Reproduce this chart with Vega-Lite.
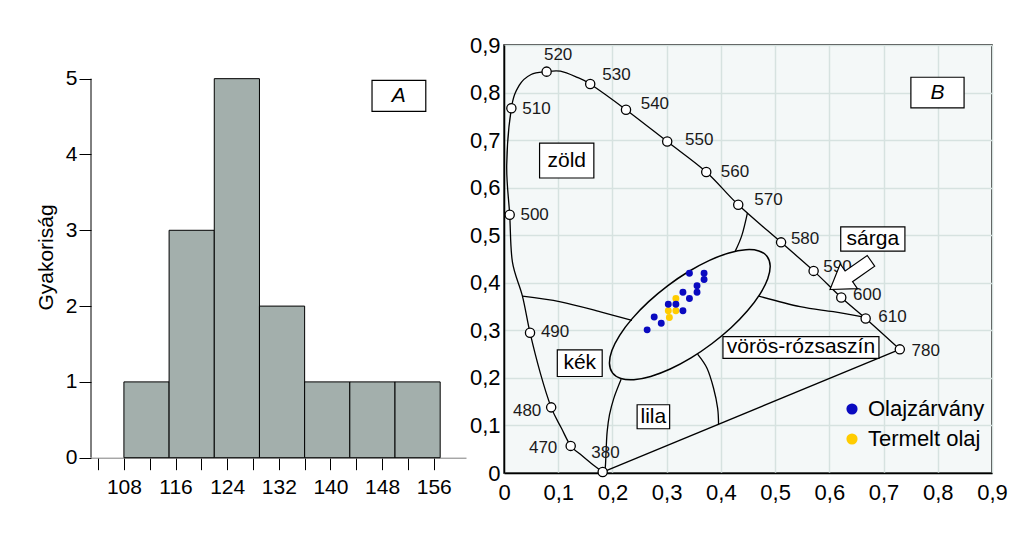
{
  "$schema": "https://vega.github.io/schema/vega-lite/v6.json",
  "padding": {"left": 35, "top": 33, "right": 5, "bottom": 5},
  "bounds": "flush",
  "spacing": 38,
  "config": {"font": "Liberation Sans"},
  "datasets": {
    "hist": [
      {"lo": 108, "hi": 115, "n": 1},
      {"lo": 115, "hi": 122, "n": 3},
      {"lo": 122, "hi": 129, "n": 5},
      {"lo": 129, "hi": 136, "n": 2},
      {"lo": 136, "hi": 143, "n": 1},
      {"lo": 143, "hi": 150, "n": 1},
      {"lo": 150, "hi": 157, "n": 1}
    ],
    "locus": [
      {"i": 1, "x": 0.182, "y": 0.002, "wl": 380},
      {"i": 2, "x": 0.160, "y": 0.021, "wl": null},
      {"i": 3, "x": 0.139, "y": 0.041, "wl": null},
      {"i": 4, "x": 0.123, "y": 0.057, "wl": 470},
      {"i": 5, "x": 0.106, "y": 0.094, "wl": null},
      {"i": 6, "x": 0.087, "y": 0.138, "wl": 480},
      {"i": 7, "x": 0.067, "y": 0.21, "wl": null},
      {"i": 8, "x": 0.048, "y": 0.295, "wl": 490},
      {"i": 9, "x": 0.034, "y": 0.372, "wl": null},
      {"i": 10, "x": 0.0155, "y": 0.444, "wl": null},
      {"i": 11, "x": 0.0105, "y": 0.543, "wl": 500},
      {"i": 12, "x": 0.005, "y": 0.647, "wl": null},
      {"i": 13, "x": 0.0136, "y": 0.767, "wl": 510},
      {"i": 14, "x": 0.028, "y": 0.815, "wl": null},
      {"i": 15, "x": 0.05, "y": 0.838, "wl": null},
      {"i": 16, "x": 0.0786, "y": 0.844, "wl": 520},
      {"i": 17, "x": 0.104, "y": 0.845, "wl": null},
      {"i": 18, "x": 0.135, "y": 0.832, "wl": null},
      {"i": 19, "x": 0.159, "y": 0.818, "wl": 530},
      {"i": 20, "x": 0.225, "y": 0.764, "wl": 540},
      {"i": 21, "x": 0.301, "y": 0.697, "wl": 550},
      {"i": 22, "x": 0.373, "y": 0.633, "wl": 560},
      {"i": 23, "x": 0.432, "y": 0.564, "wl": 570},
      {"i": 24, "x": 0.511, "y": 0.485, "wl": 580},
      {"i": 25, "x": 0.571, "y": 0.425, "wl": 590},
      {"i": 26, "x": 0.622, "y": 0.369, "wl": 600},
      {"i": 27, "x": 0.667, "y": 0.325, "wl": 610},
      {"i": 28, "x": 0.730, "y": 0.260, "wl": 780}
    ],
    "wlabels": [
      {"t": "380", "x": 0.1872, "y": 0.042},
      {"t": "470", "x": 0.0722, "y": 0.0524},
      {"t": "480", "x": 0.0427, "y": 0.1294},
      {"t": "490", "x": 0.0942, "y": 0.2973},
      {"t": "500", "x": 0.0565, "y": 0.5433},
      {"t": "510", "x": 0.0598, "y": 0.7657},
      {"t": "520", "x": 0.0998, "y": 0.8783},
      {"t": "530", "x": 0.2074, "y": 0.837},
      {"t": "540", "x": 0.2783, "y": 0.7762},
      {"t": "550", "x": 0.3602, "y": 0.700},
      {"t": "560", "x": 0.4259, "y": 0.6325},
      {"t": "570", "x": 0.4878, "y": 0.574},
      {"t": "580", "x": 0.5553, "y": 0.493},
      {"t": "590", "x": 0.6151, "y": 0.4336},
      {"t": "600", "x": 0.6698, "y": 0.3742},
      {"t": "610", "x": 0.7164, "y": 0.3287},
      {"t": "780", "x": 0.7777, "y": 0.2574}
    ],
    "bounds": [
      {"seg": 1, "i": 1, "x": 0.034, "y": 0.372},
      {"seg": 1, "i": 2, "x": 0.1044, "y": 0.360},
      {"seg": 1, "i": 3, "x": 0.178, "y": 0.339},
      {"seg": 1, "i": 4, "x": 0.236, "y": 0.321},
      {"seg": 2, "i": 1, "x": 0.216, "y": 0.197},
      {"seg": 2, "i": 2, "x": 0.2025, "y": 0.157},
      {"seg": 2, "i": 3, "x": 0.1946, "y": 0.1225},
      {"seg": 2, "i": 4, "x": 0.1903, "y": 0.0875},
      {"seg": 2, "i": 5, "x": 0.1885, "y": 0.0524},
      {"seg": 2, "i": 6, "x": 0.1872, "y": 0.0176},
      {"seg": 2, "i": 7, "x": 0.186, "y": 0.004},
      {"seg": 3, "i": 1, "x": 0.357, "y": 0.25},
      {"seg": 3, "i": 2, "x": 0.3744, "y": 0.2203},
      {"seg": 3, "i": 3, "x": 0.3865, "y": 0.1783},
      {"seg": 3, "i": 4, "x": 0.394, "y": 0.1364},
      {"seg": 3, "i": 5, "x": 0.3957, "y": 0.102},
      {"seg": 4, "i": 1, "x": 0.470, "y": 0.372},
      {"seg": 4, "i": 2, "x": 0.5461, "y": 0.3497},
      {"seg": 4, "i": 3, "x": 0.6074, "y": 0.3392},
      {"seg": 4, "i": 4, "x": 0.664, "y": 0.328},
      {"seg": 5, "i": 1, "x": 0.4265, "y": 0.4665},
      {"seg": 5, "i": 2, "x": 0.4388, "y": 0.5001},
      {"seg": 5, "i": 3, "x": 0.449, "y": 0.547}
    ],
    "ellipse": [
      {"i": 0, "x": 0.4853, "y": 0.4554},
      {"i": 1, "x": 0.4909, "y": 0.4354},
      {"i": 2, "x": 0.4864, "y": 0.4084},
      {"i": 3, "x": 0.4721, "y": 0.3763},
      {"i": 4, "x": 0.4490, "y": 0.3412},
      {"i": 5, "x": 0.4187, "y": 0.3055},
      {"i": 6, "x": 0.3832, "y": 0.2718},
      {"i": 7, "x": 0.3449, "y": 0.2421},
      {"i": 8, "x": 0.3065, "y": 0.2187},
      {"i": 9, "x": 0.2705, "y": 0.2031},
      {"i": 10, "x": 0.2395, "y": 0.1963},
      {"i": 11, "x": 0.2155, "y": 0.1988},
      {"i": 12, "x": 0.2001, "y": 0.2105},
      {"i": 13, "x": 0.1945, "y": 0.2305},
      {"i": 14, "x": 0.1990, "y": 0.2575},
      {"i": 15, "x": 0.2133, "y": 0.2896},
      {"i": 16, "x": 0.2364, "y": 0.3246},
      {"i": 17, "x": 0.2668, "y": 0.3603},
      {"i": 18, "x": 0.3023, "y": 0.3941},
      {"i": 19, "x": 0.3406, "y": 0.4237},
      {"i": 20, "x": 0.3790, "y": 0.4471},
      {"i": 21, "x": 0.4149, "y": 0.4627},
      {"i": 22, "x": 0.4460, "y": 0.4695},
      {"i": 23, "x": 0.4700, "y": 0.4670}
    ],
    "pts": [
      {"g": "Termelt olaj", "x": 0.317, "y": 0.367},
      {"g": "Termelt olaj", "x": 0.303, "y": 0.341},
      {"g": "Termelt olaj", "x": 0.317, "y": 0.341},
      {"g": "Termelt olaj", "x": 0.305, "y": 0.327},
      {"g": "Olajzárvány", "x": 0.342, "y": 0.420},
      {"g": "Olajzárvány", "x": 0.369, "y": 0.420},
      {"g": "Olajzárvány", "x": 0.369, "y": 0.407},
      {"g": "Olajzárvány", "x": 0.356, "y": 0.394},
      {"g": "Olajzárvány", "x": 0.356, "y": 0.380},
      {"g": "Olajzárvány", "x": 0.330, "y": 0.380},
      {"g": "Olajzárvány", "x": 0.342, "y": 0.367},
      {"g": "Olajzárvány", "x": 0.303, "y": 0.355},
      {"g": "Olajzárvány", "x": 0.317, "y": 0.355},
      {"g": "Olajzárvány", "x": 0.330, "y": 0.341},
      {"g": "Olajzárvány", "x": 0.277, "y": 0.328},
      {"g": "Olajzárvány", "x": 0.290, "y": 0.315},
      {"g": "Olajzárvány", "x": 0.264, "y": 0.301}
    ],
    "boxes": [
      {"name": "zöld", "x0": 0.0656, "x1": 0.1657, "y0": 0.6203, "y1": 0.6937, "cx": 0.1157, "cy": 0.657},
      {"name": "kék", "x0": 0.0983, "x1": 0.1811, "y0": 0.2029, "y1": 0.2589, "cx": 0.1397, "cy": 0.2309},
      {"name": "lila", "x0": 0.2455, "x1": 0.3055, "y0": 0.0931, "y1": 0.1435, "cx": 0.2755, "cy": 0.1183},
      {"name": "vörös-rózsaszín", "x0": 0.4038, "x1": 0.6915, "y0": 0.2412, "y1": 0.2868, "cx": 0.5477, "cy": 0.264},
      {"name": "sárga", "x0": 0.6210, "x1": 0.7394, "y0": 0.4665, "y1": 0.5175, "cx": 0.6802, "cy": 0.492},
      {"name": "B", "x0": 0.7504, "x1": 0.8485, "y0": 0.7678, "y1": 0.8322, "cx": 0.7995, "cy": 0.80}
    ]
  },
  "hconcat": [
    {
      "width": 375,
      "height": 428,
      "view": {"stroke": null},
      "layer": [
        {
          "data": {"name": "hist"},
          "mark": {"type": "rect", "fill": "#a3afac", "stroke": "black", "strokeWidth": 1},
          "encoding": {
            "x": {
              "field": "lo", "type": "quantitative",
              "scale": {"domain": [102.9, 161.0], "nice": false, "zero": false},
              "axis": {
                "values": [104, 108, 112, 116, 120, 124, 128, 132, 136, 140, 144, 148, 152, 156],
                "tickCount": 30,
                "labelExpr": "indexof([108, 116, 124, 132, 140, 148, 156], datum.value) >= 0 ? format(datum.value, 'd') : ''",
                "offset": -15.3,
                "domainColor": "#7f7f7f", "domainWidth": 1,
                "tickColor": "black", "tickSize": 12, "tickWidth": 1,
                "labelFontSize": 21, "labelColor": "black", "labelPadding": 7,
                "labelFlush": false, "labelOverlap": false, "labelBound": false,
                "grid": false, "title": null
              }
            },
            "x2": {"field": "hi"},
            "y": {
              "field": "n", "type": "quantitative",
              "scale": {"domain": [-0.2016, 5.444], "nice": false, "zero": false},
              "axis": {
                "values": [0, 1, 2, 3, 4, 5],
                "format": "d",
                "domain": false,
                "tickColor": "black", "tickSize": 12, "tickWidth": 1,
                "labelFontSize": 21, "labelColor": "black", "labelPadding": 2,
                "labelOverlap": false,
                "grid": false,
                "title": "Gyakoriság", "titleFontSize": 21, "titleFontWeight": "normal", "titleColor": "black",
                "titleX": -45, "titleY": 212, "titleBaseline": "middle"
              }
            },
            "y2": {"datum": 0}
          }
        },
        {
          "data": {"values": [{"lo": 102.9, "n": 0, "n2": 5}]},
          "mark": {"type": "rule", "color": "black", "strokeWidth": 1},
          "encoding": {"x": {"field": "lo", "type": "quantitative"}, "y": {"field": "n", "type": "quantitative"}, "y2": {"field": "n2"}}
        },
        {
          "data": {"values": [{"lo": 146.44, "hi": 154.77, "n": 4.569, "n2": 4.978}]},
          "mark": {"type": "rect", "fill": "white", "stroke": "black", "strokeWidth": 1.2},
          "encoding": {
            "x": {"field": "lo", "type": "quantitative"}, "x2": {"field": "hi"},
            "y": {"field": "n", "type": "quantitative"}, "y2": {"field": "n2"}
          }
        },
        {
          "data": {"values": [{"t": "A", "lo": 150.6, "n": 4.773}]},
          "mark": {"type": "text", "fontSize": 21, "fontStyle": "italic", "color": "black", "baseline": "middle", "align": "center"},
          "encoding": {
            "x": {"field": "lo", "type": "quantitative"},
            "y": {"field": "n", "type": "quantitative"},
            "text": {"field": "t"}
          }
        }
      ]
    },
    {
      "width": 488,
      "height": 428,
      "view": {"fill": "#f4f8f8", "stroke": "black", "strokeWidth": 1.5},
      "layer": [
        {
          "data": {"name": "locus"},
          "mark": {"type": "line", "color": "black", "strokeWidth": 1.3, "interpolate": "cardinal"},
          "encoding": {
            "x": {
              "field": "x", "type": "quantitative",
              "scale": {"domain": [0, 0.9], "nice": false, "zero": false},
              "axis": {
                "values": [0, 0.1, 0.2, 0.3, 0.4, 0.5, 0.6, 0.7, 0.8, 0.9],
                "tickCount": 20,
                "labelExpr": "datum.value == 0 ? '0' : replace(format(datum.value, '.1f'), '.', ',')",
                "grid": true, "gridColor": "#d6e2e0", "gridWidth": 1.5,
                "domainColor": "black", "domainWidth": 1.5,
                "ticks": false, "labelFontSize": 22, "labelColor": "black",
                "labelPadding": 9, "labelDx": 4, "labelFlush": false, "labelOverlap": false,
                "title": null
              }
            },
            "y": {
              "field": "y", "type": "quantitative",
              "scale": {"domain": [0, 0.9], "nice": false, "zero": false},
              "axis": {
                "values": [0, 0.1, 0.2, 0.3, 0.4, 0.5, 0.6, 0.7, 0.8, 0.9],
                "tickCount": 20,
                "labelExpr": "datum.value == 0 ? '0' : replace(format(datum.value, '.1f'), '.', ',')",
                "grid": true, "gridColor": "#d6e2e0", "gridWidth": 1.5,
                "domainColor": "black", "domainWidth": 1.5,
                "ticks": false, "labelFontSize": 22, "labelColor": "black",
                "labelPadding": 4, "labelFlush": false, "labelOverlap": false,
                "title": null
              }
            },
            "order": {"field": "i", "type": "quantitative"}
          }
        },
        {
          "data": {"name": "locus"},
          "transform": [{"filter": "datum.wl == 380 || datum.wl == 780"}],
          "mark": {"type": "line", "color": "black", "strokeWidth": 1.3},
          "encoding": {
            "x": {"field": "x", "type": "quantitative"},
            "y": {"field": "y", "type": "quantitative"},
            "order": {"field": "i", "type": "quantitative"}
          }
        },
        {
          "data": {"name": "bounds"},
          "mark": {"type": "line", "color": "black", "strokeWidth": 1.3, "interpolate": "cardinal"},
          "encoding": {
            "x": {"field": "x", "type": "quantitative"},
            "y": {"field": "y", "type": "quantitative"},
            "detail": {"field": "seg"},
            "order": {"field": "i", "type": "quantitative"}
          }
        },
        {
          "data": {"name": "ellipse"},
          "mark": {"type": "line", "color": "black", "strokeWidth": 1.5, "interpolate": "cardinal-closed"},
          "encoding": {
            "x": {"field": "x", "type": "quantitative"},
            "y": {"field": "y", "type": "quantitative"},
            "order": {"field": "i", "type": "quantitative"}
          }
        },
        {
          "data": {"name": "pts"},
          "mark": {"type": "circle", "size": 48, "opacity": 1},
          "encoding": {
            "x": {"field": "x", "type": "quantitative"},
            "y": {"field": "y", "type": "quantitative"},
            "color": {
              "field": "g", "type": "nominal",
              "scale": {"domain": ["Olajzárvány", "Termelt olaj"], "range": ["#0a0ac0", "#ffcc00"]},
              "legend": {
                "orient": "none", "legendX": 750, "legendY": 353,
                "title": null, "labelFontSize": 22, "labelColor": "black", "labelLimit": 0,
                "symbolSize": 125, "symbolType": "circle", "symbolStrokeWidth": 0,
                "rowPadding": 8, "labelOffset": 5, "padding": 0
              }
            }
          }
        },
        {
          "data": {"name": "locus"},
          "transform": [{"filter": "datum.wl != null"}],
          "mark": {"type": "point", "shape": "circle", "size": 85, "filled": true, "fill": "white", "stroke": "black", "strokeWidth": 1.3, "opacity": 1},
          "encoding": {
            "x": {"field": "x", "type": "quantitative"},
            "y": {"field": "y", "type": "quantitative"}
          }
        },
        {
          "data": {"name": "wlabels"},
          "mark": {"type": "text", "fontSize": 17, "color": "#1a1a1a", "align": "center", "baseline": "middle"},
          "encoding": {
            "x": {"field": "x", "type": "quantitative"},
            "y": {"field": "y", "type": "quantitative"},
            "text": {"field": "t"}
          }
        },
        {
          "data": {"values": [{"x": 0.639, "y": 0.416}]},
          "mark": {"type": "point", "shape": "M 1 0 L 0.08 -0.6 L 0.08 -0.26 L -1 -0.26 L -1 0.26 L 0.08 0.26 L 0.08 0.6 Z", "size": 2500, "angle": 145, "filled": true, "fill": "white", "stroke": "black", "strokeWidth": 1.2, "opacity": 1},
          "encoding": {
            "x": {"field": "x", "type": "quantitative"},
            "y": {"field": "y", "type": "quantitative"}
          }
        },
        {
          "data": {"name": "boxes"},
          "mark": {"type": "rect", "fill": "white", "stroke": "black", "strokeWidth": 1.2},
          "encoding": {
            "x": {"field": "x0", "type": "quantitative"}, "x2": {"field": "x1"},
            "y": {"field": "y0", "type": "quantitative"}, "y2": {"field": "y1"}
          }
        },
        {
          "data": {"name": "boxes"},
          "transform": [{"filter": "datum.name != 'B'"}],
          "mark": {"type": "text", "fontSize": 21, "color": "black", "align": "center", "baseline": "middle"},
          "encoding": {
            "x": {"field": "cx", "type": "quantitative"},
            "y": {"field": "cy", "type": "quantitative"},
            "text": {"field": "name"}
          }
        },
        {
          "data": {"name": "boxes"},
          "transform": [{"filter": "datum.name == 'B'"}],
          "mark": {"type": "text", "fontSize": 21, "fontStyle": "italic", "color": "black", "align": "center", "baseline": "middle"},
          "encoding": {
            "x": {"field": "cx", "type": "quantitative"},
            "y": {"field": "cy", "type": "quantitative"},
            "text": {"field": "name"}
          }
        }
      ]
    }
  ]
}
